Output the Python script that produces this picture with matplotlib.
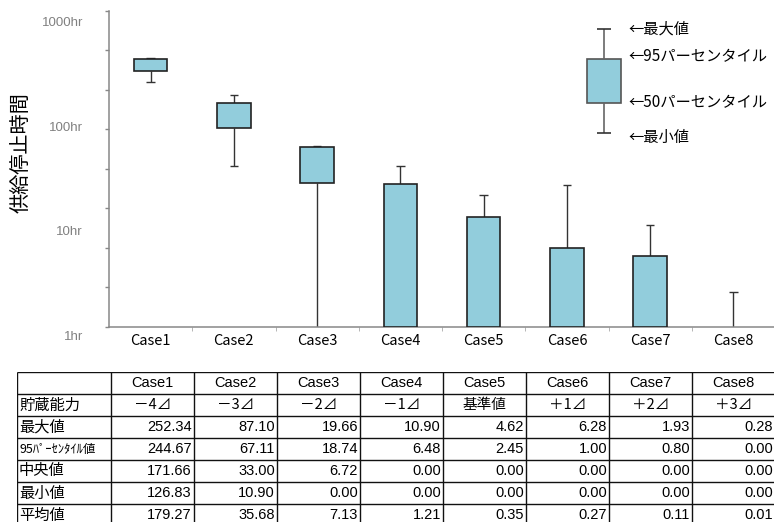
import numpy as np
import matplotlib.pyplot as plt

plt.rcParams['font.family'] = ['Liberation Sans', 'Noto Sans CJK JP', 'DejaVu Sans']

# --- data (table values, hours) ---
cases = ["Case1", "Case2", "Case3", "Case4", "Case5", "Case6", "Case7", "Case8"]
capacity = ["－4⊿", "－3⊿", "－2⊿", "－1⊿", "基準値", "＋1⊿", "＋2⊿", "＋3⊿"]
max_val = [252.34, 87.10, 19.66, 10.90, 4.62, 6.28, 1.93, 0.28]
p95_val = [244.67, 67.11, 18.74, 6.48, 2.45, 1.00, 0.80, 0.00]
median_val = [171.66, 33.00, 6.72, 0.00, 0.00, 0.00, 0.00, 0.00]
min_val = [126.83, 10.90, 0.00, 0.00, 0.00, 0.00, 0.00, 0.00]
mean_val = [179.27, 35.68, 7.13, 1.21, 0.35, 0.27, 0.11, 0.01]
row_labels = ["貯蔵能力", "最大値", "95ﾊﾟｰｾﾝﾀｲﾙ値", "中央値", "最小値", "平均値"]
y_labels = ["1hr", "10hr", "100hr", "1000hr"]
legend_labels = ["←最大値", "←95パーセンタイル", "←50パーセンタイル", "←最小値"]

box_color = "#92CDDC"
W, H = 774, 522
fig = plt.figure(figsize=(W / 100, H / 100), dpi=100)

# --- main chart ---
ax = fig.add_axes([109 / W, 1 - 327 / H, 666 / W, 316.3 / H])
floor = 0.1
x = np.arange(len(cases))
mx = np.clip(max_val, floor, None)
p95 = np.clip(p95_val, floor, None)
med = np.clip(median_val, floor, None)
mn = np.clip(min_val, floor, None)

ax.set_yscale("log")
ax.set_ylim(floor, 1000)
ax.set_xlim(-0.5, len(cases) - 0.5)

ax.vlines(x, p95, mx, color="#333333", lw=1.0, zorder=2)
ax.vlines(x, mn, med, color="#333333", lw=1.0, zorder=2)
cap = 0.05
top = mx > floor
ax.hlines(mx[top], x[top] - cap, x[top] + cap, color="#333333", lw=1.0, zorder=2)
low = mn > floor
ax.hlines(mn[low], x[low] - cap, x[low] + cap, color="#333333", lw=1.0, zorder=2)

has_box = p95 > med
ax.bar(x[has_box], (p95 - med)[has_box], bottom=med[has_box], width=0.4,
       color=box_color, edgecolor="#222222", linewidth=1.2, zorder=3)

for s in ["top", "right"]:
    ax.spines[s].set_visible(False)
for s in ["left", "bottom"]:
    ax.spines[s].set_color("#888888")
    ax.spines[s].set_linewidth(1.1)

ax.set_yticks(10 ** np.arange(-1, 3.01, 0.5))
ax.yaxis.set_minor_locator(plt.NullLocator())
ax.set_yticklabels([])
ax.tick_params(axis="y", length=3, color="#888888", width=1)
ax.set_xticks(x)
ax.set_xticklabels(cases, fontsize=10.5, family=['Noto Sans CJK JP', 'DejaVu Sans'])
ax.set_xticks(x[:-1] + 0.5, minor=True)
ax.tick_params(axis="x", which="major", length=0, pad=5)
ax.tick_params(axis="x", which="minor", length=3, color="#aaaaaa")

for i, lab in enumerate(y_labels):
    ax.text(-0.039, -0.031 + 0.3302 * i, lab, transform=ax.transAxes,
            ha="right", va="center", fontsize=9.5, color="#808080")

fig.text(22 / W, 1 - 153 / H, "供給停止時間", rotation=90, ha="center", va="center",
         fontsize=14.5, family=['Noto Sans CJK JP', 'DejaVu Sans'])

# --- legend schematic ---
lg = fig.add_axes([560 / W, 1 - 150 / H, 214 / W, 140 / H])
lg.set_xlim(560, 774)
lg.set_ylim(150, 10)
lg.axis("off")
lg.vlines(604, 29, 59, color="#666666", lw=1.2)
lg.vlines(604, 103, 133, color="#666666", lw=1.2)
lg.hlines([29, 133], 597, 611, color="#333333", lw=1.2)
lg.add_patch(plt.Rectangle((587, 59), 34, 44, facecolor=box_color,
                           edgecolor="#555555", lw=1.2))
for lab, yy in zip(legend_labels, [29, 57, 103, 137]):
    lg.text(628, yy, lab, ha="left", va="center", fontsize=11,
            family=['Noto Sans CJK JP', 'DejaVu Sans'])

# --- table ---
col_w = [94] + [83] * len(cases)
col_edges = np.concatenate([[0], np.cumsum(col_w)])
row_h = 22
n_rows = 1 + len(row_labels)
tb = fig.add_axes([17 / W, 1 - (372 + n_rows * row_h) / H,
                   col_edges[-1] / W, n_rows * row_h / H])
tb.set_xlim(0, col_edges[-1])
tb.set_ylim(n_rows * row_h, 0)
tb.axis("off")
tb.hlines(np.arange(n_rows + 1) * row_h, 0, col_edges[-1], color="#111111", lw=1.0)
tb.vlines(col_edges, 0, n_rows * row_h, color="#111111", lw=1.0)

cjk = ['Noto Sans CJK JP', 'DejaVu Sans']
num_rows = [max_val, p95_val, median_val, min_val, mean_val]
for j, c in enumerate(cases):
    cx = (col_edges[j + 1] + col_edges[j + 2]) / 2
    tb.text(cx, row_h * 0.5, c, ha="center", va="center", fontsize=10.5)
    tb.text(cx, row_h * 1.5, capacity[j], ha="center", va="center",
            fontsize=10.5, family=cjk)
    for r, vals in enumerate(num_rows):
        tb.text(col_edges[j + 2] - 2, row_h * (r + 2.5), f"{vals[j]:.2f}",
                ha="right", va="center", fontsize=10.5)
for r, lab in enumerate(row_labels):
    fs = 9 if r == 2 else 11
    tb.text(2, row_h * (r + 1.5), lab, ha="left", va="center", fontsize=fs, family=cjk)

fig.savefig("out.png", dpi=100)
